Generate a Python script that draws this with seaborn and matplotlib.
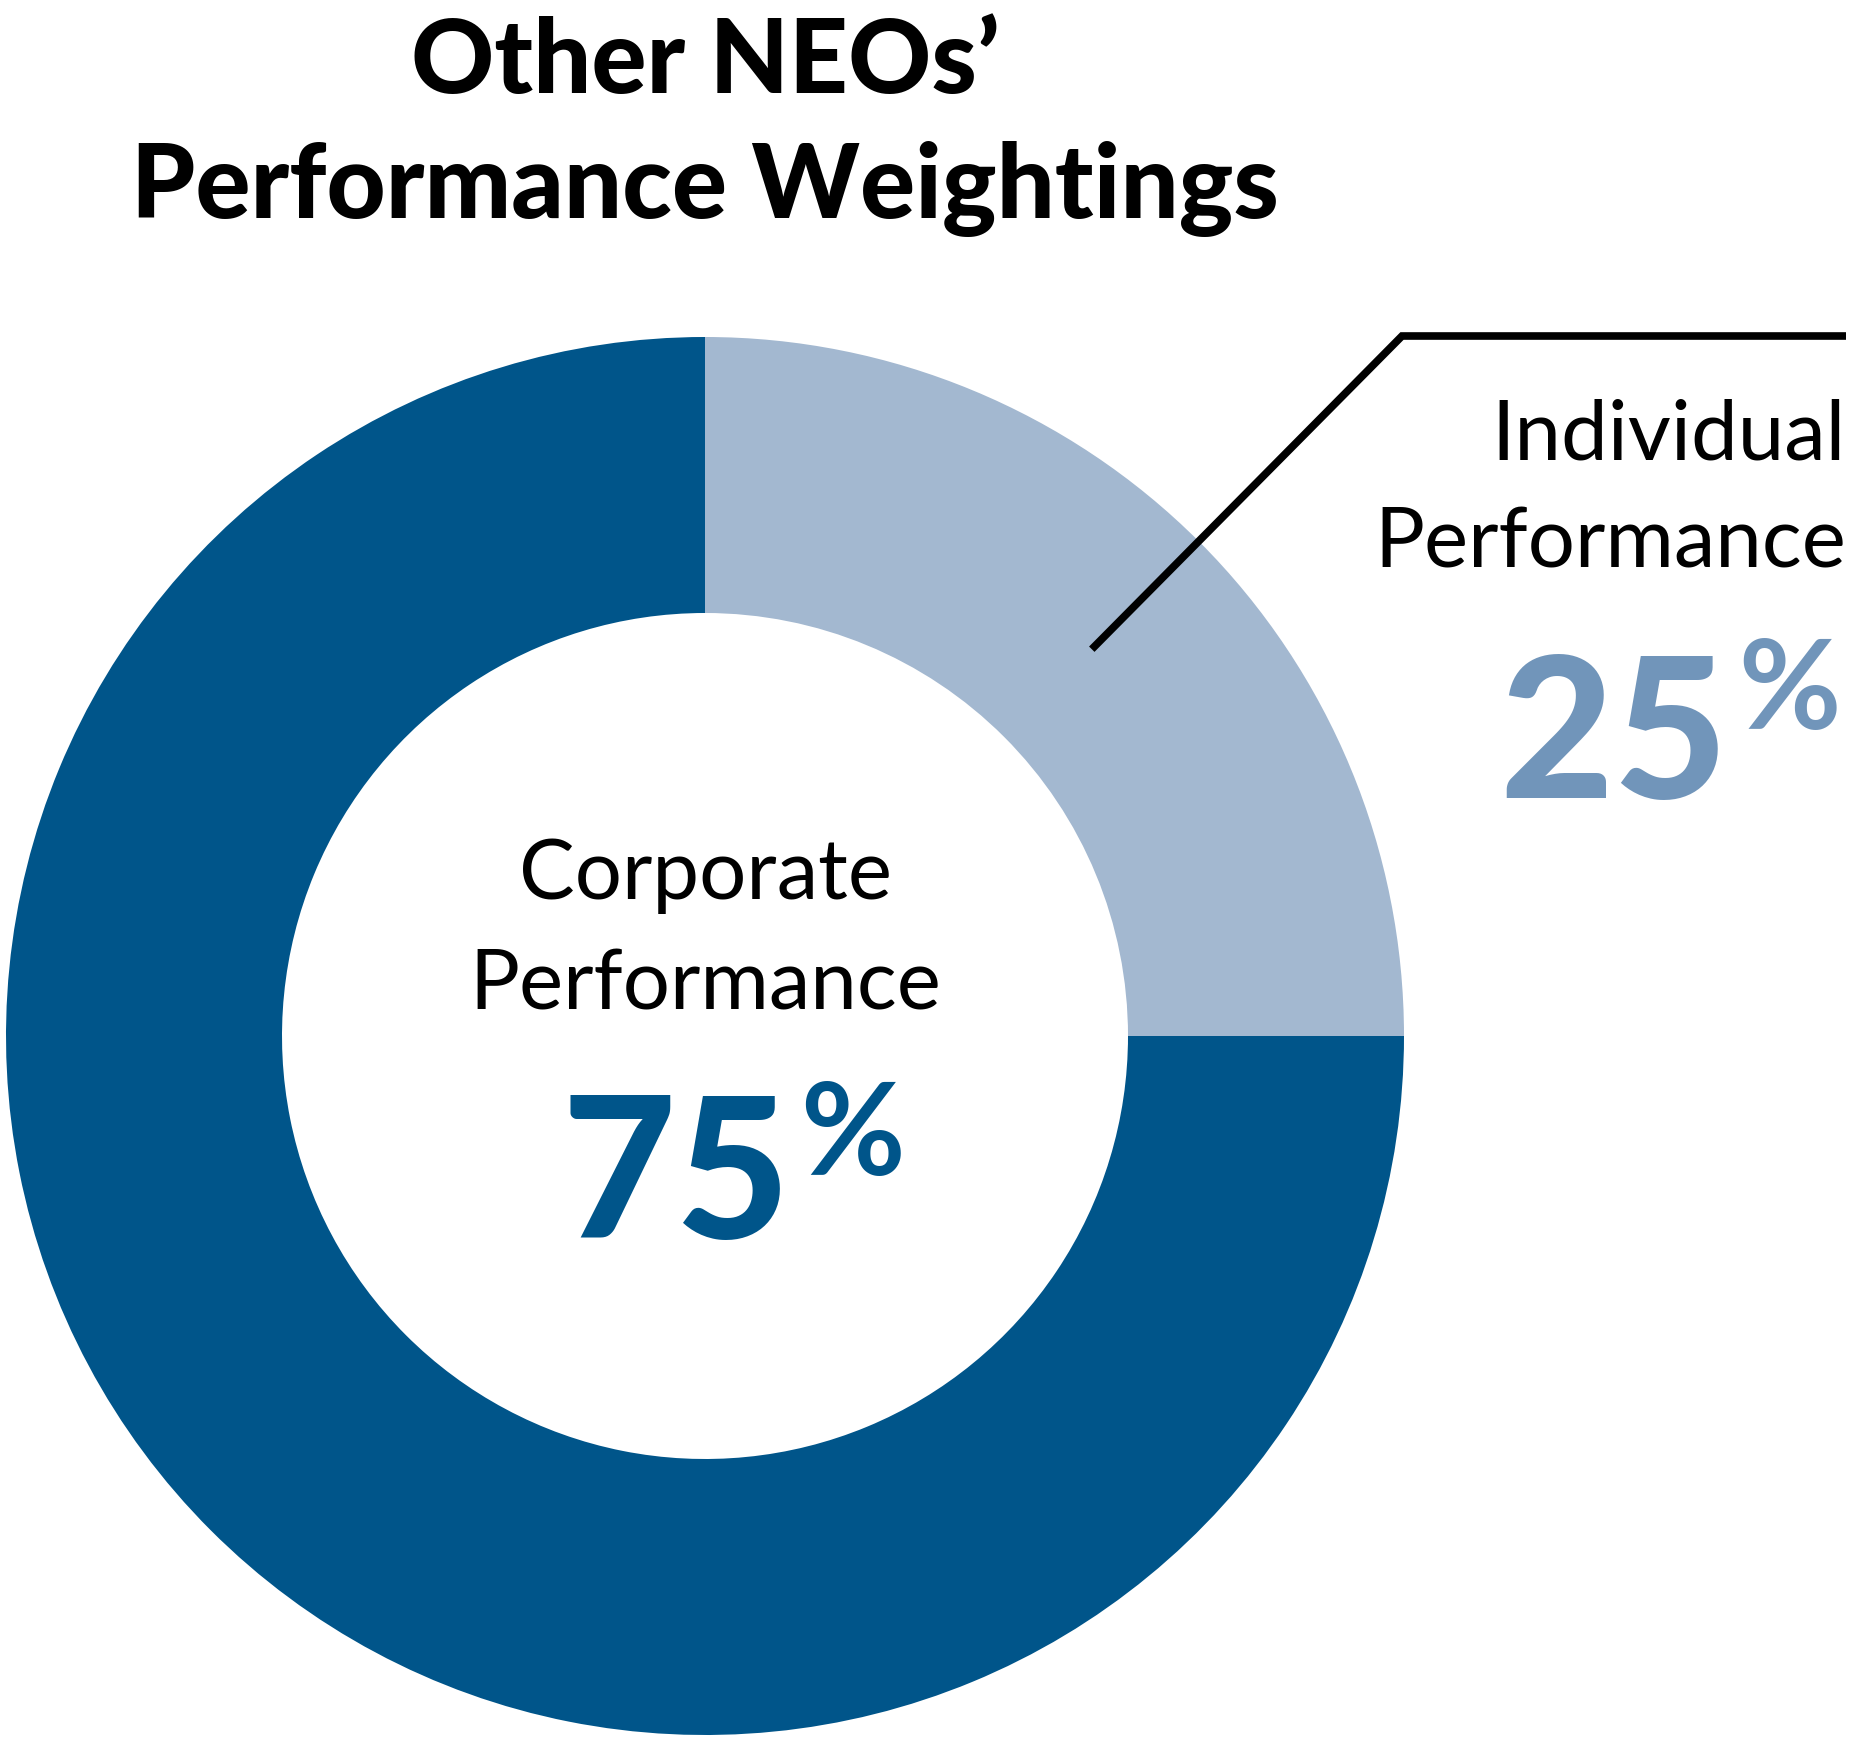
import numpy as np
import matplotlib
matplotlib.use("Agg")
import matplotlib.pyplot as plt
import seaborn as sb

# data
labels = ["Individual\nPerformance", "Corporate\nPerformance"]
weights = [25, 75]
colors = ["#a3b8d0", "#00558a"]
pct_colors = ["#7195ba", "#00558a"]
title = "Other NEOs’\nPerformance Weightings"

W, H = 1860, 1737
sb.set_theme(style="white")
plt.rcParams['font.family'] = ['Lato', 'DejaVu Sans']

fig = plt.figure(figsize=(W / 100, H / 100), dpi=100)
ax = fig.add_axes([0, 0, 1, 1])

cx, cy, r_out, r_in = 705, 1036, 699, 423
# y axis is flipped below, so counterclock=True draws clockwise on screen
wedges, _ = ax.pie(weights, colors=colors, startangle=-90, counterclock=True,
                   radius=r_out, center=(cx, cy), frame=True,
                   wedgeprops=dict(width=r_out - r_in, linewidth=0))
ax.set_xlim(0, W)
ax.set_ylim(H, 0)   # pixel coords, y down
ax.axis('off')

# title
t1, t2 = title.split("\n")
ax.text(cx, 93, t1, ha='center', va='baseline', fontsize=74,
        fontweight='black', color='black')
ax.text(cx, 218, t2, ha='center', va='baseline', fontsize=74,
        fontweight='black', color='black')

# corporate label in the hole
c1, c2 = labels[1].split("\n")
ax.text(cx, 899, c1, ha='center', va='baseline', fontsize=60,
        fontweight='normal', color='black')
ax.text(cx, 1010, c2, ha='center', va='baseline', fontsize=60,
        fontweight='normal', color='black')
ax.text(790, 1238, f"{weights[1]}", ha='right', va='baseline', fontsize=142,
        fontweight='black', color=pct_colors[1])
ax.text(800, 1080, "%", ha='left', va='top', fontsize=92,
        fontweight='bold', color=pct_colors[1])

# individual label on the right
i1, i2 = labels[0].split("\n")
ax.text(1846, 459, i1, ha='right', va='baseline', fontsize=60,
        fontweight='normal', color='black')
ax.text(1846, 567, i2, ha='right', va='baseline', fontsize=60,
        fontweight='normal', color='black')
ax.text(1728, 798, f"{weights[0]}", ha='right', va='baseline', fontsize=142,
        fontweight='black', color=pct_colors[0])
ax.text(1738, 636, "%", ha='left', va='top', fontsize=90,
        fontweight='bold', color=pct_colors[0])

# leader line from middle of the small wedge
w = wedges[0]
ang = np.deg2rad((w.theta1 + w.theta2) / 2)
r_mid = (r_out + r_in) / 2 - 14
x0 = cx + r_mid * np.cos(ang)
y0 = cy + r_mid * np.sin(ang)
ax.plot([x0, 1402, 1846], [y0, 336, 336], color='black', lw=5.5,
        solid_capstyle='butt', solid_joinstyle='miter')

fig.savefig("out.png", dpi=100, facecolor='white')
